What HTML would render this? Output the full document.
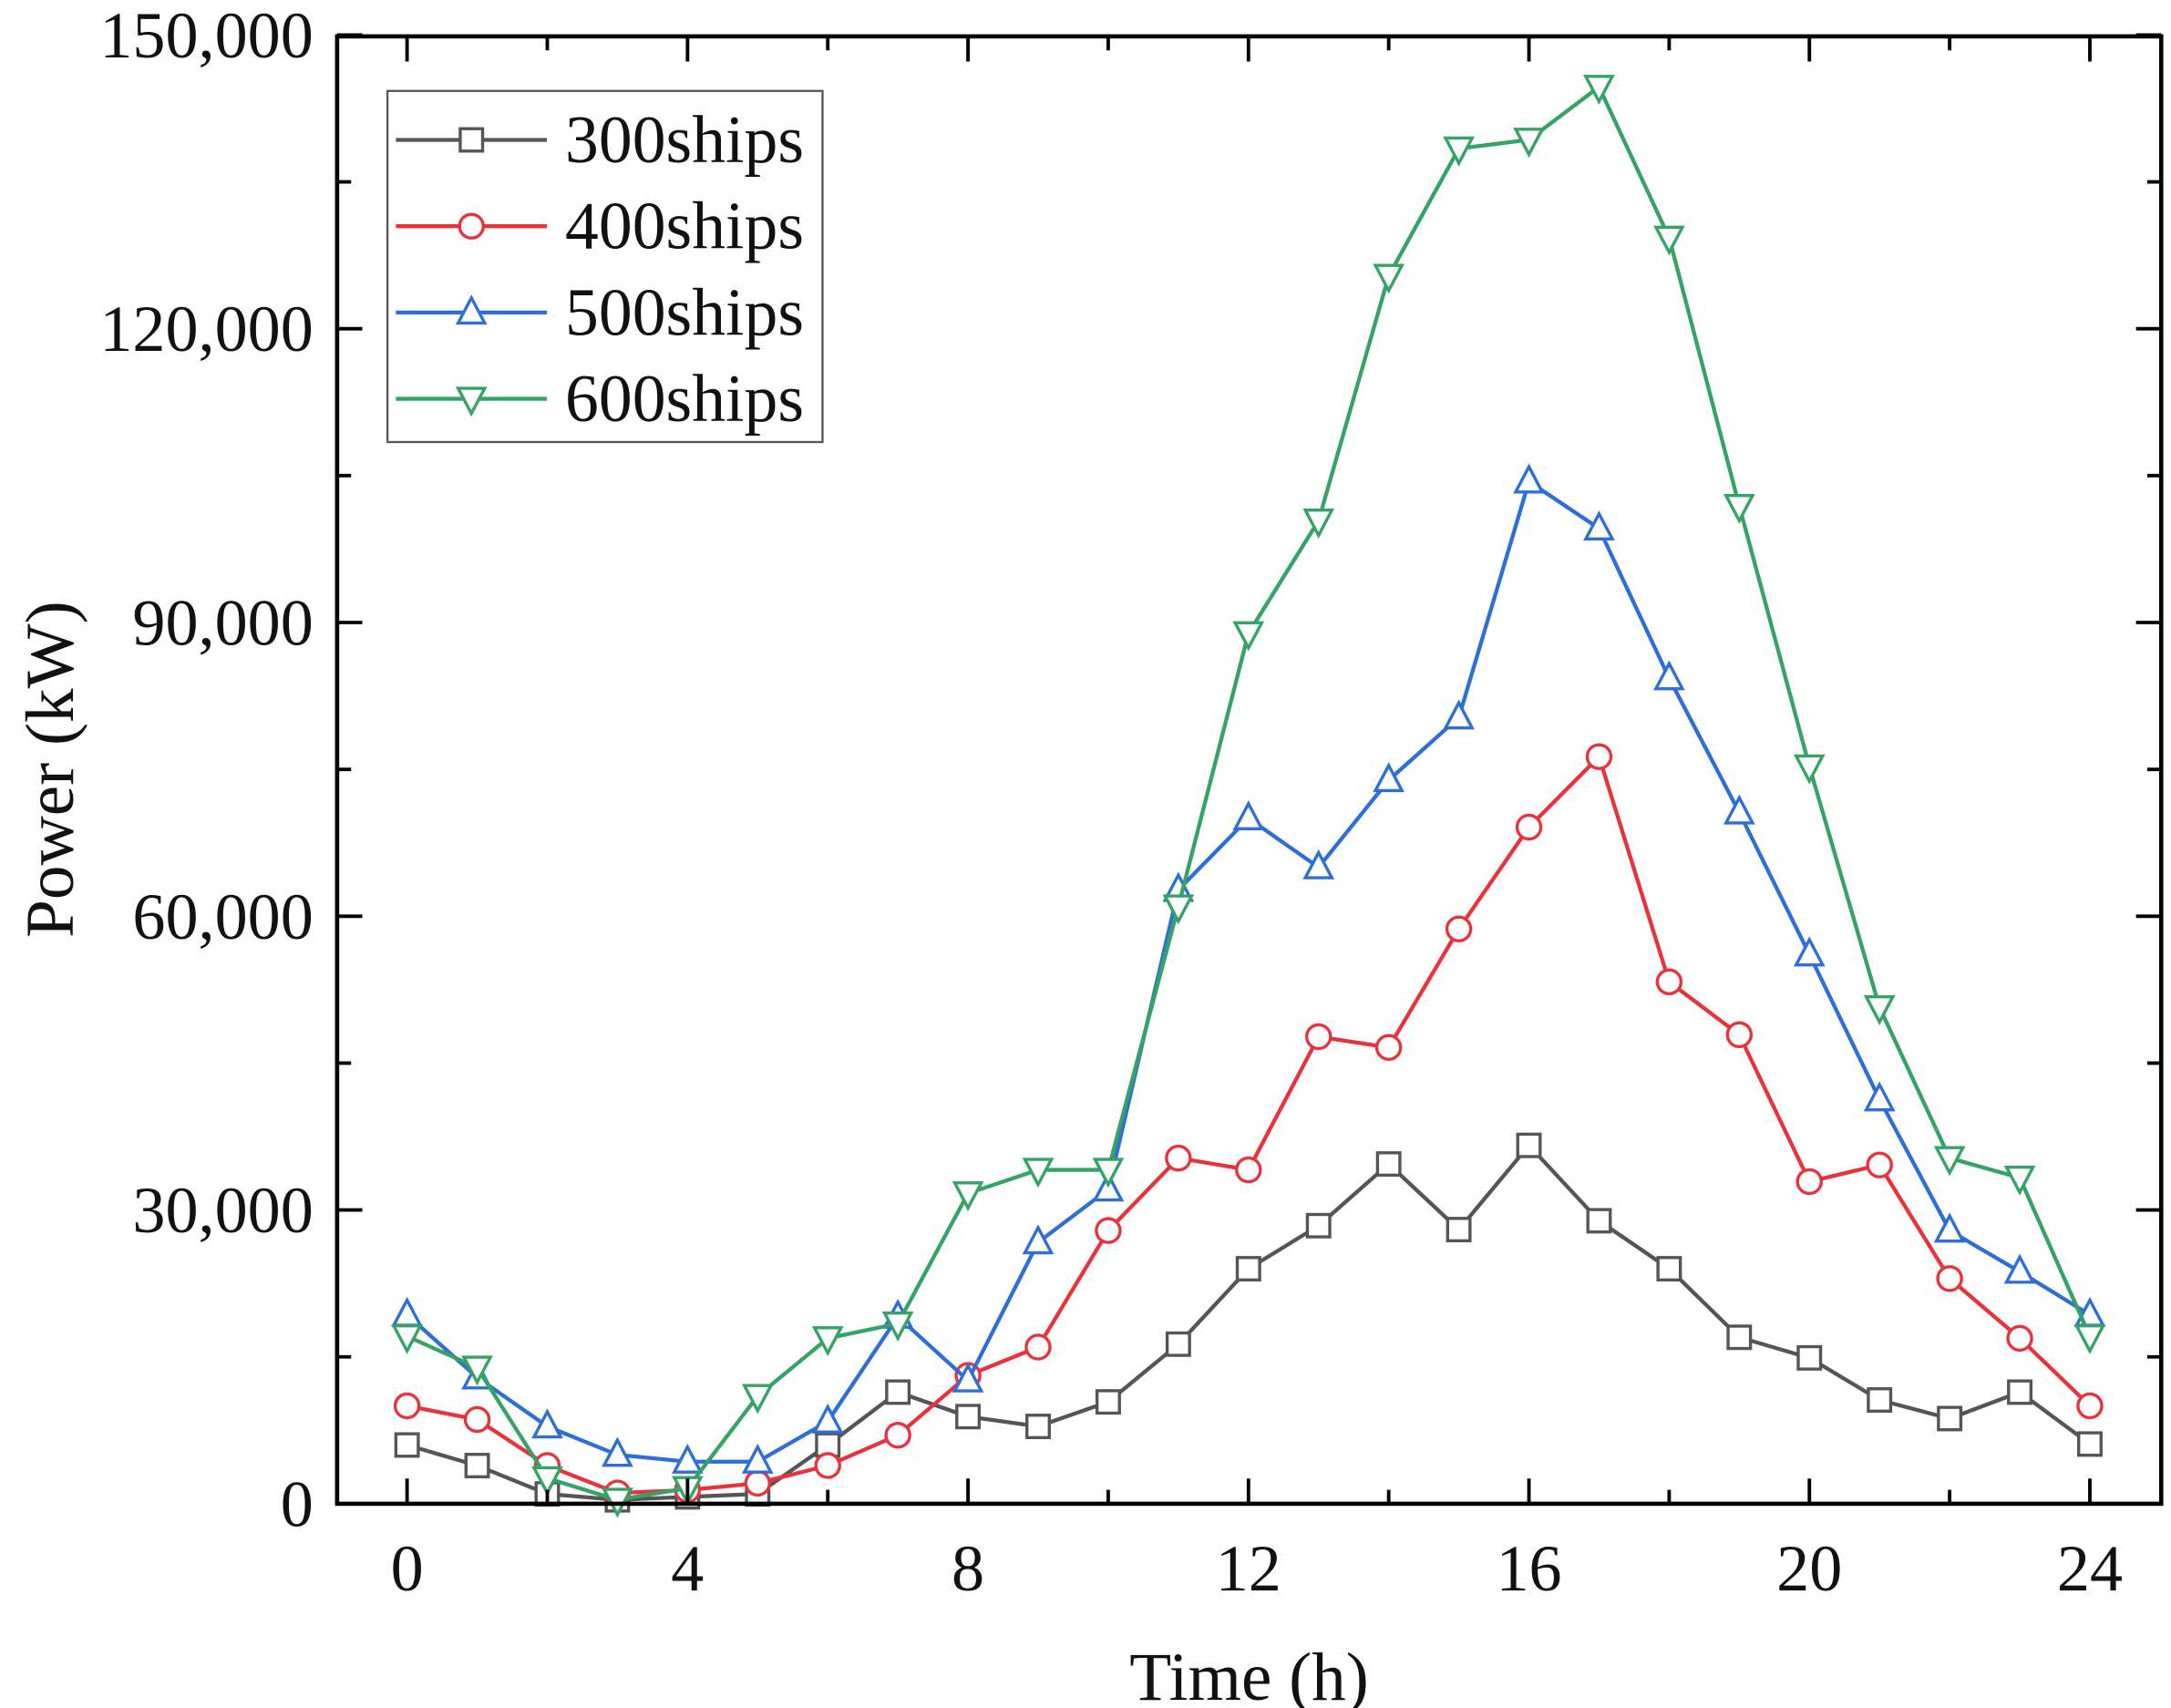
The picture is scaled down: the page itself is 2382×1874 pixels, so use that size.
<!DOCTYPE html>
<html><head><meta charset="utf-8"><style>
html,body{margin:0;padding:0;background:#fff;}
svg{display:block;}
text{font-family:"Liberation Serif",serif;fill:#111;}
</style></head><body>
<svg id="chart" width="2382" height="1874" viewBox="0 0 1552 1221" xmlns="http://www.w3.org/2000/svg">
<g id="grid"></g>
<g id="series"></g>
<rect x="241" y="26" width="1304" height="1049" fill="none" stroke="#000" stroke-width="3"/>
<g id="ticks"></g>
<text x="893" y="1215" font-size="49" text-anchor="middle">Time (h)</text>
<text x="52" y="550" font-size="49" text-anchor="middle" transform="rotate(-90 52 550)">Power (kW)</text>
<g id="legend"></g>
</svg>
<script>
const hours = [0,1,2,3,4,5,6,7,8,9,10,11,12,13,14,15,16,17,18,19,20,21,22,23,24];
const s300 = [6,3.9,1,0.4,0.7,1,6,11.4,8.9,7.9,10.4,16.3,24,28.4,34.7,28,36.6,28.9,24,17,14.9,10.6,8.7,11.4,6.1];
const s400 = [10,8.6,3.9,1.1,1.4,2.1,3.9,7,13.1,16,27.9,35.3,34.1,47.7,46.6,58.7,69.1,76.3,53.3,47.9,32.9,34.6,23,16.9,10];
const s500 = [19.3,12.9,7.9,5,4.3,4.3,8.4,19.1,12.6,26.7,32.1,62.7,70,65,73.9,80.3,104.4,99.6,84.3,70.6,56.1,41.3,27.9,23.7,19.3];
const s600 = [17.1,13.9,2.6,0.4,1.6,11,16.9,18.4,31.7,34.1,34.1,61,88.9,100.4,125.4,138.4,139.3,144.7,129.3,101.9,75.3,50.7,35.3,33.3,17.1];
const seriesNames = ["300ships","400ships","500ships","600ships"];
const xTicks = [0,4,8,12,16,20,24];
const yTicks = [0,30000,60000,90000,120000,150000];
const yTickLabels = ["0","30,000","60,000","90,000","120,000","150,000"];

const NS="http://www.w3.org/2000/svg";
const L=241,R=1545,T=26,B=1075;
const x = h => 291 + (h/24)*(1494-291);
const y = v => 1075 - (v/150000)*(1075-25);
function el(tag, attrs, parent){const e=document.createElementNS(NS,tag);for(const k in attrs)e.setAttribute(k,attrs[k]);parent.appendChild(e);return e;}
const ticks=document.getElementById('ticks');
for(let h=0;h<=24;h+=2){
  const major = h%4===0, len = major?18:10;
  const t=el('path',{d:`M${x(h)},${B}V${B-len}M${x(h)},${T}V${T+len}`,stroke:'#000','stroke-width':2.5},ticks);
  
  
}
xTicks.forEach(h=>{
  const t=el('text',{x:x(h),y:1137,'font-size':47,'text-anchor':'middle'},ticks);t.textContent=h;
  
  
});
for(let v=0;v<=150000;v+=15000){
  const major=v%30000===0, len=major?18:10;
  const t=el('path',{d:`M${L},${y(v)}H${L+len}M${R},${y(v)}H${R-len}`,stroke:'#000','stroke-width':2.5},ticks);
  
  
}
yTicks.forEach((v,i)=>{
  const t=el('text',{x:224,y:y(v)+16,'font-size':47,'text-anchor':'end'},ticks);t.textContent=yTickLabels[i];
  
  
});
const colors=['#555555','#e8323c','#2e6fd6','#35a266'];
const markers=['square','circle','up','down'];
function marker(type,cx,cy,c,parent){
  const s=8.5;let m;
  if(type==='square')m=el('rect',{x:cx-s+0.5,y:cy-s+0.5,width:2*s-1,height:2*s-1},parent);
  else if(type==='circle')m=el('circle',{cx,cy,r:s},parent);
  else if(type==='up')m=el('polygon',{points:`${cx},${cy-s-2} ${cx-s-1},${cy+s-1} ${cx+s+1},${cy+s-1}`},parent);
  else m=el('polygon',{points:`${cx},${cy+s+2} ${cx-s-1},${cy-s+1} ${cx+s+1},${cy-s+1}`},parent);
  m.setAttribute('fill','#fff');m.setAttribute('stroke',c);m.setAttribute('stroke-width',2.2);
  return m;
}
const sg=document.getElementById('series');
[s300,s400,s500,s600].forEach((arr,i)=>{
  const g=el('g',{},sg);
  
  
  const p=el('polyline',{points:arr.map((v,j)=>`${x(hours[j])},${y(v*1000)}`).join(' '),fill:'none',stroke:colors[i],'stroke-width':2.8},g);
  
  
  arr.forEach((v,j)=>{
    const m=marker(markers[i],x(hours[j]),y(v*1000),colors[i],g);
    
    
  });
});
const lg=document.getElementById('legend');
const box=el('rect',{x:277,y:65,width:311,height:251,fill:'#fff',stroke:'#555','stroke-width':1.5},lg);


seriesNames.forEach((n,i)=>{
  const cy=100+i*61.7;
  const g=el('g',{},lg);
  
  
  el('line',{x1:283,x2:391,y1:cy,y2:cy,stroke:colors[i],'stroke-width':2.8},g);
  marker(markers[i],337,cy,colors[i],g);
  const t=el('text',{x:404,y:cy+16,'font-size':48},g);t.textContent=n;
});
</script>
</body></html>
